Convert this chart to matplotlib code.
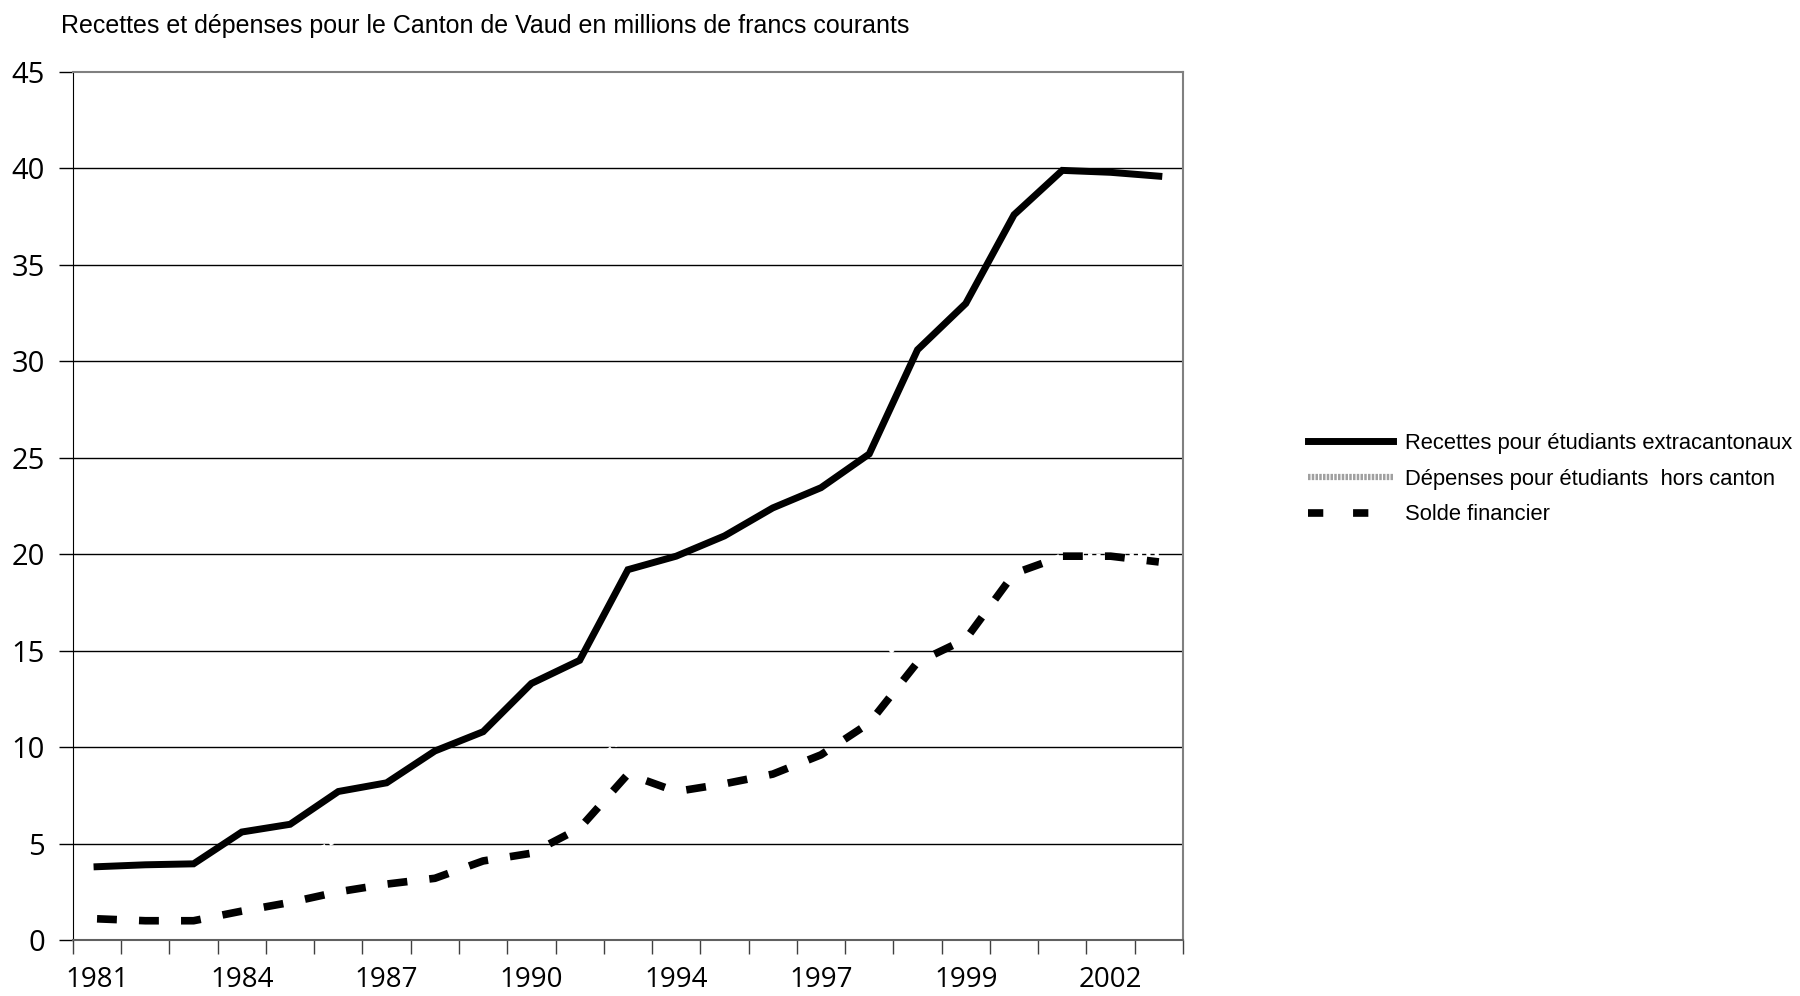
import matplotlib
matplotlib.use('Agg')
import matplotlib.pyplot as plt
from matplotlib.lines import Line2D

# Values (millions de francs courants)
years = list(range(1981, 2004))
tick_labels = ['1981', '1984', '1987', '1990', '1994', '1997', '1999', '2002']
recettes = [3.8, 3.9, 3.95, 5.6, 6.0, 7.7, 8.15, 9.8, 10.8, 13.3, 14.5, 19.2,
            19.9, 20.95, 22.4, 23.45, 25.2, 30.6, 33.0, 37.6, 39.9, 39.8, 39.6]
depenses = [2.7, 2.9, 2.95, 4.1, 4.0, 5.2, 5.25, 6.6, 6.7, 8.8, 8.7, 10.6,
            12.2, 12.85, 13.8, 13.85, 13.95, 16.2, 17.4, 18.6, 20.0, 19.9, 20.0]
solde = [1.1, 1.0, 1.0, 1.5, 1.95, 2.5, 2.9, 3.2, 4.1, 4.5, 5.8, 8.6,
         7.7, 8.1, 8.6, 9.6, 11.25, 14.4, 15.6, 19.0, 19.9, 19.9, 19.6]

narrow = ['Liberation Sans', 'DejaVu Sans']
ticks_font = ['Open Sans', 'DejaVu Sans']

fig = plt.figure(figsize=(18, 9.96), dpi=100)
ax = fig.add_axes([0.0405, 0.0562, 0.6167, 0.8715])

x = list(range(len(years)))

# gridlines first, then the white "depenses" line, then the two black series
for v in range(5, 45, 5):
    ax.axhline(v, color='black', linewidth=1, zorder=1)
ax.plot(x, depenses, color='white', linewidth=3, linestyle=(0, (1, 1)),
        zorder=2)
ax.plot(x, solde, color='black', linewidth=5.5, linestyle=(0, (2.6, 2.9)),
        zorder=3, solid_capstyle='butt', dash_capstyle='butt')
ax.plot(x, recettes, color='black', linewidth=5, zorder=4,
        solid_joinstyle='miter')

ax.set_xlim(-0.5, len(years) - 0.5)
ax.set_ylim(0, 45)
ax.set_yticks(range(0, 50, 5))
ax.tick_params(axis='y', labelsize=21, length=10, width=1, pad=10)

ax.set_xticks([i - 0.5 for i in range(len(years) + 1)])
ax.set_xticklabels([])
ax.tick_params(axis='x', which='major', length=10, width=1, color='#404040')
ax.set_xticks(list(range(0, len(years), 3)), minor=True)
ax.set_xticklabels(tick_labels, minor=True)
ax.tick_params(axis='x', which='minor', length=0, labelsize=20, pad=19)
for lab in ax.get_xticklabels(minor=True) + ax.get_yticklabels():
    lab.set_family(ticks_font)

for side in ['top', 'right']:
    ax.spines[side].set_color('#808080')
    ax.spines[side].set_linewidth(1.5)
ax.spines['left'].set_color('black')
ax.spines['bottom'].set_color('#606060')
ax.spines['bottom'].set_linewidth(1.5)

fig.text(61 / 1800, 1 - 26 / 996,
         'Recettes et dépenses pour le Canton de Vaud en millions de francs courants',
         family=narrow, fontsize=18, va='center', ha='left')

handles = [
    Line2D([], [], color='black', linewidth=5),
    Line2D([], [], color='#a0a0a0', linewidth=4.5, linestyle=(0, (0.4, 0.2))),
    Line2D([], [], color='black', linewidth=5.5, linestyle=(0, (2.0, 3.9))),
]
labels = ['Recettes pour étudiants extracantonaux',
          'Dépenses pour étudiants  hors canton',
          'Solde financier']
fig.legend(handles, labels, loc='center left',
           bbox_to_anchor=(1288 / 1800, 1 - 479 / 996), frameon=False,
           prop={'family': narrow, 'size': 15.8}, handlelength=3.9,
           handletextpad=0.55, labelspacing=0.68)

fig.savefig('out.png', dpi=100)
